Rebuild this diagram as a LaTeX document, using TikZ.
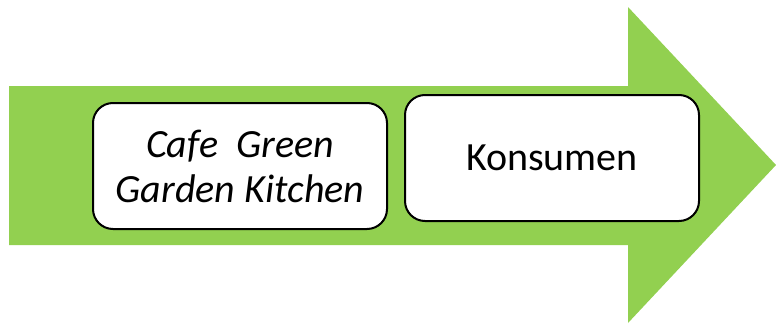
\documentclass[tikz,border=0pt]{standalone}
\usepackage{fontspec}
\setmainfont{Carlito}
\usepackage{tikz}
\usetikzlibrary{positioning}
\definecolor{verde}{HTML}{92D050}
\tikzset{
  flowbox/.style={draw=black,line width=2pt,rounded corners=20pt,fill=white,
    align=center,minimum width=294pt,minimum height=126pt,inner sep=2pt,
    font=\fontsize{40}{45}\selectfont},
  bigarrow/.style={fill=verde}
}
\begin{document}
\begin{tikzpicture}[x=1pt,y=-1pt]
\useasboundingbox (0,0) rectangle (776,324);
% panah hijau
\fill[bigarrow] (9,86) -- (628,86) -- (628,7) -- (776,165) -- (628,323)
  -- (628,245) -- (9,245) -- cycle;
\node[flowbox] (cafe) at (240,166) {\itshape Cafe~ Green\\\itshape Garden Kitchen};
\node[flowbox] (konsumen) at (552,158) {Konsumen};
\end{tikzpicture}
\end{document}
